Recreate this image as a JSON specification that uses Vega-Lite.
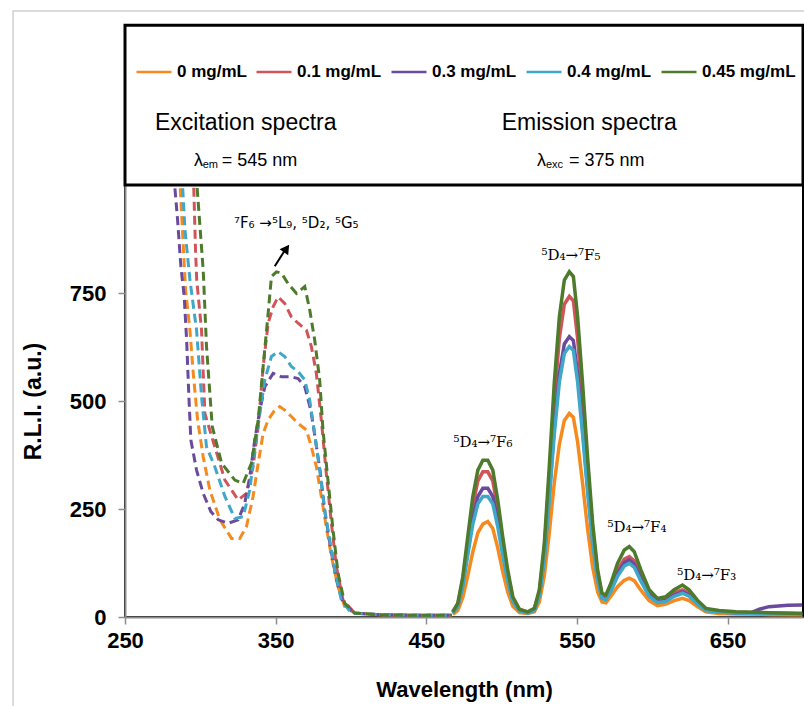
{
 "$schema": "https://vega.github.io/schema/vega-lite/v6.json",
 "width": 678,
 "height": 432,
 "autosize": {"type": "none"},
 "padding": {"left": 125, "top": 185, "right": 1, "bottom": 89},
 "background": "white",
 "config": {
  "font": "Liberation Sans",
  "view": {"stroke": "black", "strokeWidth": 2},
  "axis": {"grid": false, "labelColor": "black", "titleColor": "black", "labelFont": "Liberation Sans", "titleFont": "Liberation Sans", "labelFontWeight": "bold", "titleFontWeight": "bold", "labelFontSize": 22, "titleFontSize": 22, "domainColor": "#8c8c8c", "domainWidth": 2, "tickColor": "#8c8c8c", "tickSize": 7, "tickWidth": 1.5, "labelFlush": false},
  "legend": {"orient": "none", "legendX": 10, "legendY": -132, "direction": "horizontal", "symbolType": "stroke", "symbolSize": 1225, "symbolStrokeWidth": 2.5, "symbolDash": [1, 0], "labelFont": "Liberation Sans", "labelFontWeight": "bold", "labelFontSize": 17, "labelColor": "black", "labelOffset": 4, "columnPadding": 4, "padding": 0, "titleFontSize": 0}
 },
 "datasets": {
  "exc": [
   {"c":"0 mg/mL","wl":278,"rli":1250},{"c":"0 mg/mL","wl":286.4,"rli":1011},{"c":"0 mg/mL","wl":288.7,"rli":857},{"c":"0 mg/mL","wl":290.2,"rli":757},{"c":"0 mg/mL","wl":293.1,"rli":664},{"c":"0 mg/mL","wl":295.3,"rli":564},{"c":"0 mg/mL","wl":298.2,"rli":456},{"c":"0 mg/mL","wl":301.9,"rli":371},{"c":"0 mg/mL","wl":306.3,"rli":294},{"c":"0 mg/mL","wl":313,"rli":225},{"c":"0 mg/mL","wl":320.7,"rli":182},{"c":"0 mg/mL","wl":326.2,"rli":182},{"c":"0 mg/mL","wl":330.6,"rli":209},{"c":"0 mg/mL","wl":335,"rli":279},{"c":"0 mg/mL","wl":338.4,"rli":356},{"c":"0 mg/mL","wl":341.7,"rli":425},{"c":"0 mg/mL","wl":345,"rli":456},{"c":"0 mg/mL","wl":349.4,"rli":479},{"c":"0 mg/mL","wl":352.7,"rli":487},{"c":"0 mg/mL","wl":356,"rli":479},{"c":"0 mg/mL","wl":360.4,"rli":464},{"c":"0 mg/mL","wl":364.9,"rli":448},{"c":"0 mg/mL","wl":370.4,"rli":433},{"c":"0 mg/mL","wl":373.7,"rli":394},{"c":"0 mg/mL","wl":377,"rli":348},{"c":"0 mg/mL","wl":380.3,"rli":279},{"c":"0 mg/mL","wl":383.6,"rli":209},{"c":"0 mg/mL","wl":387,"rli":140},{"c":"0 mg/mL","wl":391.4,"rli":70},{"c":"0 mg/mL","wl":395.8,"rli":24},{"c":"0 mg/mL","wl":402.4,"rli":9},{"c":"0 mg/mL","wl":420,"rli":5},{"c":"0 mg/mL","wl":445,"rli":4},{"c":"0 mg/mL","wl":467,"rli":4},
   {"c":"0.1 mg/mL","wl":285,"rli":1250},{"c":"0.1 mg/mL","wl":295.5,"rli":1011},{"c":"0.1 mg/mL","wl":296.8,"rli":850},{"c":"0.1 mg/mL","wl":297.6,"rli":780},{"c":"0.1 mg/mL","wl":300.8,"rli":664},{"c":"0.1 mg/mL","wl":303,"rli":471},{"c":"0.1 mg/mL","wl":309.6,"rli":394},{"c":"0.1 mg/mL","wl":316.3,"rli":317},{"c":"0.1 mg/mL","wl":325.1,"rli":271},{"c":"0.1 mg/mL","wl":330.6,"rli":286},{"c":"0.1 mg/mL","wl":335,"rli":348},{"c":"0.1 mg/mL","wl":338.4,"rli":441},{"c":"0.1 mg/mL","wl":341.7,"rli":580},{"c":"0.1 mg/mL","wl":345,"rli":680},{"c":"0.1 mg/mL","wl":348.3,"rli":718},{"c":"0.1 mg/mL","wl":351.6,"rli":741},{"c":"0.1 mg/mL","wl":356,"rli":726},{"c":"0.1 mg/mL","wl":360.4,"rli":695},{"c":"0.1 mg/mL","wl":364.9,"rli":680},{"c":"0.1 mg/mL","wl":370.4,"rli":664},{"c":"0.1 mg/mL","wl":373.7,"rli":626},{"c":"0.1 mg/mL","wl":377,"rli":564},{"c":"0.1 mg/mL","wl":380.3,"rli":456},{"c":"0.1 mg/mL","wl":383.6,"rli":333},{"c":"0.1 mg/mL","wl":387,"rli":217},{"c":"0.1 mg/mL","wl":390.3,"rli":117},{"c":"0.1 mg/mL","wl":394.7,"rli":39},{"c":"0.1 mg/mL","wl":402.4,"rli":9},{"c":"0.1 mg/mL","wl":420,"rli":5},{"c":"0.1 mg/mL","wl":445,"rli":4},{"c":"0.1 mg/mL","wl":467,"rli":4},
   {"c":"0.3 mg/mL","wl":275,"rli":1250},{"c":"0.3 mg/mL","wl":282.7,"rli":1011},{"c":"0.3 mg/mL","wl":284.9,"rli":919},{"c":"0.3 mg/mL","wl":287.1,"rli":811},{"c":"0.3 mg/mL","wl":289.3,"rli":742},{"c":"0.3 mg/mL","wl":290.9,"rli":641},{"c":"0.3 mg/mL","wl":292.4,"rli":510},{"c":"0.3 mg/mL","wl":293.7,"rli":410},{"c":"0.3 mg/mL","wl":297.5,"rli":340},{"c":"0.3 mg/mL","wl":301.9,"rli":286},{"c":"0.3 mg/mL","wl":307,"rli":244},{"c":"0.3 mg/mL","wl":311.9,"rli":225},{"c":"0.3 mg/mL","wl":318.5,"rli":217},{"c":"0.3 mg/mL","wl":325.1,"rli":225},{"c":"0.3 mg/mL","wl":329.5,"rli":263},{"c":"0.3 mg/mL","wl":332.8,"rli":325},{"c":"0.3 mg/mL","wl":336.1,"rli":410},{"c":"0.3 mg/mL","wl":339.5,"rli":479},{"c":"0.3 mg/mL","wl":342.8,"rli":533},{"c":"0.3 mg/mL","wl":348.3,"rli":564},{"c":"0.3 mg/mL","wl":353.8,"rli":556},{"c":"0.3 mg/mL","wl":360.4,"rli":556},{"c":"0.3 mg/mL","wl":364.9,"rli":552},{"c":"0.3 mg/mL","wl":369.3,"rli":533},{"c":"0.3 mg/mL","wl":373.3,"rli":479},{"c":"0.3 mg/mL","wl":376.4,"rli":410},{"c":"0.3 mg/mL","wl":379.7,"rli":333},{"c":"0.3 mg/mL","wl":382.5,"rli":248},{"c":"0.3 mg/mL","wl":386.3,"rli":163},{"c":"0.3 mg/mL","wl":390.3,"rli":86},{"c":"0.3 mg/mL","wl":394.7,"rli":32},{"c":"0.3 mg/mL","wl":402.4,"rli":9},{"c":"0.3 mg/mL","wl":420,"rli":5},{"c":"0.3 mg/mL","wl":445,"rli":4},{"c":"0.3 mg/mL","wl":467,"rli":4},
   {"c":"0.4 mg/mL","wl":280,"rli":1250},{"c":"0.4 mg/mL","wl":288,"rli":1011},{"c":"0.4 mg/mL","wl":289.8,"rli":896},{"c":"0.4 mg/mL","wl":293.1,"rli":780},{"c":"0.4 mg/mL","wl":297.5,"rli":664},{"c":"0.4 mg/mL","wl":300.8,"rli":510},{"c":"0.4 mg/mL","wl":304.1,"rli":394},{"c":"0.4 mg/mL","wl":309.6,"rli":348},{"c":"0.4 mg/mL","wl":316.3,"rli":279},{"c":"0.4 mg/mL","wl":322.9,"rli":228},{"c":"0.4 mg/mL","wl":328.4,"rli":232},{"c":"0.4 mg/mL","wl":332.8,"rli":294},{"c":"0.4 mg/mL","wl":336.1,"rli":387},{"c":"0.4 mg/mL","wl":339.5,"rli":471},{"c":"0.4 mg/mL","wl":342.8,"rli":549},{"c":"0.4 mg/mL","wl":347.2,"rli":603},{"c":"0.4 mg/mL","wl":351.6,"rli":614},{"c":"0.4 mg/mL","wl":356,"rli":603},{"c":"0.4 mg/mL","wl":360.4,"rli":580},{"c":"0.4 mg/mL","wl":364.9,"rli":568},{"c":"0.4 mg/mL","wl":369.3,"rli":549},{"c":"0.4 mg/mL","wl":372.6,"rli":502},{"c":"0.4 mg/mL","wl":375.9,"rli":425},{"c":"0.4 mg/mL","wl":379.2,"rli":340},{"c":"0.4 mg/mL","wl":382.5,"rli":248},{"c":"0.4 mg/mL","wl":385.9,"rli":178},{"c":"0.4 mg/mL","wl":389.2,"rli":109},{"c":"0.4 mg/mL","wl":393.6,"rli":39},{"c":"0.4 mg/mL","wl":400.2,"rli":9},{"c":"0.4 mg/mL","wl":420,"rli":5},{"c":"0.4 mg/mL","wl":445,"rli":4},{"c":"0.4 mg/mL","wl":467,"rli":4},
   {"c":"0.45 mg/mL","wl":288,"rli":1250},{"c":"0.45 mg/mL","wl":297.5,"rli":1011},{"c":"0.45 mg/mL","wl":301.9,"rli":803},{"c":"0.45 mg/mL","wl":304.1,"rli":626},{"c":"0.45 mg/mL","wl":307.9,"rli":441},{"c":"0.45 mg/mL","wl":314.1,"rli":356},{"c":"0.45 mg/mL","wl":322.9,"rli":317},{"c":"0.45 mg/mL","wl":328.4,"rli":309},{"c":"0.45 mg/mL","wl":333.9,"rli":356},{"c":"0.45 mg/mL","wl":338.4,"rli":456},{"c":"0.45 mg/mL","wl":341.7,"rli":580},{"c":"0.45 mg/mL","wl":345,"rli":703},{"c":"0.45 mg/mL","wl":347.2,"rli":788},{"c":"0.45 mg/mL","wl":350.5,"rli":799},{"c":"0.45 mg/mL","wl":353.8,"rli":796},{"c":"0.45 mg/mL","wl":358.2,"rli":772},{"c":"0.45 mg/mL","wl":363.8,"rli":749},{"c":"0.45 mg/mL","wl":369.3,"rli":765},{"c":"0.45 mg/mL","wl":372.6,"rli":711},{"c":"0.45 mg/mL","wl":375.9,"rli":641},{"c":"0.45 mg/mL","wl":379.2,"rli":549},{"c":"0.45 mg/mL","wl":381.4,"rli":433},{"c":"0.45 mg/mL","wl":384.7,"rli":317},{"c":"0.45 mg/mL","wl":388.1,"rli":201},{"c":"0.45 mg/mL","wl":391.4,"rli":101},{"c":"0.45 mg/mL","wl":395.8,"rli":32},{"c":"0.45 mg/mL","wl":402.4,"rli":9},{"c":"0.45 mg/mL","wl":420,"rli":5},{"c":"0.45 mg/mL","wl":445,"rli":4},{"c":"0.45 mg/mL","wl":467,"rli":4}
  ],
  "ems": [
   {"c":"0 mg/mL","wl":467.6,"rli":6},{"c":"0 mg/mL","wl":470.9,"rli":15},{"c":"0 mg/mL","wl":474.2,"rli":45},{"c":"0 mg/mL","wl":477.5,"rli":95},{"c":"0 mg/mL","wl":480.8,"rli":150},{"c":"0 mg/mL","wl":484.2,"rli":195},{"c":"0 mg/mL","wl":487.5,"rli":215},{"c":"0 mg/mL","wl":490.8,"rli":221},{"c":"0 mg/mL","wl":494.1,"rli":205},{"c":"0 mg/mL","wl":497.4,"rli":160},{"c":"0 mg/mL","wl":500.7,"rli":105},{"c":"0 mg/mL","wl":504,"rli":58},{"c":"0 mg/mL","wl":507.4,"rli":25},{"c":"0 mg/mL","wl":511.8,"rli":10},{"c":"0 mg/mL","wl":517.3,"rli":8},{"c":"0 mg/mL","wl":521.7,"rli":12},{"c":"0 mg/mL","wl":525,"rli":35},{"c":"0 mg/mL","wl":528.3,"rli":95},{"c":"0 mg/mL","wl":531.6,"rli":195},{"c":"0 mg/mL","wl":534.9,"rli":310},{"c":"0 mg/mL","wl":538.3,"rli":400},{"c":"0 mg/mL","wl":541.6,"rli":455},{"c":"0 mg/mL","wl":544.9,"rli":471},{"c":"0 mg/mL","wl":547.6,"rli":462},{"c":"0 mg/mL","wl":550.4,"rli":405},{"c":"0 mg/mL","wl":553.7,"rli":310},{"c":"0 mg/mL","wl":557,"rli":205},{"c":"0 mg/mL","wl":560.4,"rli":115},{"c":"0 mg/mL","wl":563.7,"rli":58},{"c":"0 mg/mL","wl":566.6,"rli":35},{"c":"0 mg/mL","wl":569.2,"rli":33},{"c":"0 mg/mL","wl":572.5,"rli":48},{"c":"0 mg/mL","wl":576.9,"rli":70},{"c":"0 mg/mL","wl":581.4,"rli":85},{"c":"0 mg/mL","wl":584.7,"rli":90},{"c":"0 mg/mL","wl":588,"rli":84},{"c":"0 mg/mL","wl":592.4,"rli":62},{"c":"0 mg/mL","wl":597.9,"rli":38},{"c":"0 mg/mL","wl":603.4,"rli":26},{"c":"0 mg/mL","wl":609,"rli":30},{"c":"0 mg/mL","wl":614.5,"rli":38},{"c":"0 mg/mL","wl":620,"rli":43},{"c":"0 mg/mL","wl":624.4,"rli":38},{"c":"0 mg/mL","wl":629.9,"rli":24},{"c":"0 mg/mL","wl":635.5,"rli":12},{"c":"0 mg/mL","wl":644.3,"rli":8},{"c":"0 mg/mL","wl":655.4,"rli":7},{"c":"0 mg/mL","wl":677.4,"rli":6},{"c":"0 mg/mL","wl":699.5,"rli":5},
   {"c":"0.1 mg/mL","wl":467.6,"rli":12},{"c":"0.1 mg/mL","wl":470.9,"rli":30},{"c":"0.1 mg/mL","wl":474.2,"rli":86},{"c":"0.1 mg/mL","wl":477.5,"rli":172},{"c":"0.1 mg/mL","wl":480.8,"rli":258},{"c":"0.1 mg/mL","wl":484.2,"rli":315},{"c":"0.1 mg/mL","wl":487.5,"rli":336},{"c":"0.1 mg/mL","wl":490.8,"rli":336},{"c":"0.1 mg/mL","wl":494.1,"rli":315},{"c":"0.1 mg/mL","wl":497.4,"rli":251},{"c":"0.1 mg/mL","wl":500.7,"rli":172},{"c":"0.1 mg/mL","wl":504,"rli":101},{"c":"0.1 mg/mL","wl":507.4,"rli":44},{"c":"0.1 mg/mL","wl":511.8,"rli":17},{"c":"0.1 mg/mL","wl":517.3,"rli":11},{"c":"0.1 mg/mL","wl":521.7,"rli":19},{"c":"0.1 mg/mL","wl":525,"rli":58},{"c":"0.1 mg/mL","wl":528.3,"rli":158},{"c":"0.1 mg/mL","wl":531.6,"rli":323},{"c":"0.1 mg/mL","wl":534.9,"rli":502},{"c":"0.1 mg/mL","wl":538.3,"rli":645},{"c":"0.1 mg/mL","wl":541.6,"rli":724},{"c":"0.1 mg/mL","wl":544.9,"rli":742},{"c":"0.1 mg/mL","wl":547.6,"rli":732},{"c":"0.1 mg/mL","wl":550.4,"rli":645},{"c":"0.1 mg/mL","wl":553.7,"rli":502},{"c":"0.1 mg/mL","wl":557,"rli":344},{"c":"0.1 mg/mL","wl":560.4,"rli":201},{"c":"0.1 mg/mL","wl":563.7,"rli":101},{"c":"0.1 mg/mL","wl":566.6,"rli":51},{"c":"0.1 mg/mL","wl":569.2,"rli":46},{"c":"0.1 mg/mL","wl":572.5,"rli":70},{"c":"0.1 mg/mL","wl":576.9,"rli":108},{"c":"0.1 mg/mL","wl":581.4,"rli":134},{"c":"0.1 mg/mL","wl":584.7,"rli":140},{"c":"0.1 mg/mL","wl":588,"rli":130},{"c":"0.1 mg/mL","wl":592.4,"rli":94},{"c":"0.1 mg/mL","wl":597.9,"rli":55},{"c":"0.1 mg/mL","wl":603.4,"rli":38},{"c":"0.1 mg/mL","wl":609,"rli":42},{"c":"0.1 mg/mL","wl":614.5,"rli":56},{"c":"0.1 mg/mL","wl":620,"rli":63},{"c":"0.1 mg/mL","wl":624.4,"rli":55},{"c":"0.1 mg/mL","wl":629.9,"rli":34},{"c":"0.1 mg/mL","wl":635.5,"rli":18},{"c":"0.1 mg/mL","wl":644.3,"rli":13},{"c":"0.1 mg/mL","wl":655.4,"rli":11},{"c":"0.1 mg/mL","wl":677.4,"rli":9},{"c":"0.1 mg/mL","wl":699.5,"rli":8},
   {"c":"0.3 mg/mL","wl":467.6,"rli":10},{"c":"0.3 mg/mL","wl":470.9,"rli":26},{"c":"0.3 mg/mL","wl":474.2,"rli":76},{"c":"0.3 mg/mL","wl":477.5,"rli":153},{"c":"0.3 mg/mL","wl":480.8,"rli":228},{"c":"0.3 mg/mL","wl":484.2,"rli":279},{"c":"0.3 mg/mL","wl":487.5,"rli":298},{"c":"0.3 mg/mL","wl":490.8,"rli":298},{"c":"0.3 mg/mL","wl":494.1,"rli":279},{"c":"0.3 mg/mL","wl":497.4,"rli":222},{"c":"0.3 mg/mL","wl":500.7,"rli":153},{"c":"0.3 mg/mL","wl":504,"rli":89},{"c":"0.3 mg/mL","wl":507.4,"rli":39},{"c":"0.3 mg/mL","wl":511.8,"rli":15},{"c":"0.3 mg/mL","wl":517.3,"rli":10},{"c":"0.3 mg/mL","wl":521.7,"rli":16},{"c":"0.3 mg/mL","wl":525,"rli":51},{"c":"0.3 mg/mL","wl":528.3,"rli":138},{"c":"0.3 mg/mL","wl":531.6,"rli":282},{"c":"0.3 mg/mL","wl":534.9,"rli":438},{"c":"0.3 mg/mL","wl":538.3,"rli":563},{"c":"0.3 mg/mL","wl":541.6,"rli":632},{"c":"0.3 mg/mL","wl":544.9,"rli":649},{"c":"0.3 mg/mL","wl":547.6,"rli":640},{"c":"0.3 mg/mL","wl":550.4,"rli":563},{"c":"0.3 mg/mL","wl":553.7,"rli":438},{"c":"0.3 mg/mL","wl":557,"rli":301},{"c":"0.3 mg/mL","wl":560.4,"rli":176},{"c":"0.3 mg/mL","wl":563.7,"rli":89},{"c":"0.3 mg/mL","wl":566.6,"rli":45},{"c":"0.3 mg/mL","wl":569.2,"rli":42},{"c":"0.3 mg/mL","wl":572.5,"rli":63},{"c":"0.3 mg/mL","wl":576.9,"rli":100},{"c":"0.3 mg/mL","wl":581.4,"rli":126},{"c":"0.3 mg/mL","wl":584.7,"rli":132},{"c":"0.3 mg/mL","wl":588,"rli":122},{"c":"0.3 mg/mL","wl":592.4,"rli":88},{"c":"0.3 mg/mL","wl":597.9,"rli":51},{"c":"0.3 mg/mL","wl":603.4,"rli":35},{"c":"0.3 mg/mL","wl":609,"rli":38},{"c":"0.3 mg/mL","wl":614.5,"rli":51},{"c":"0.3 mg/mL","wl":620,"rli":58},{"c":"0.3 mg/mL","wl":624.4,"rli":51},{"c":"0.3 mg/mL","wl":629.9,"rli":32},{"c":"0.3 mg/mL","wl":635.5,"rli":16},{"c":"0.3 mg/mL","wl":644.3,"rli":12},{"c":"0.3 mg/mL","wl":655.4,"rli":9},{"c":"0.3 mg/mL","wl":665,"rli":9},{"c":"0.3 mg/mL","wl":671,"rli":18},{"c":"0.3 mg/mL","wl":677.4,"rli":24},{"c":"0.3 mg/mL","wl":690,"rli":27},{"c":"0.3 mg/mL","wl":699.5,"rli":28},
   {"c":"0.4 mg/mL","wl":467.6,"rli":9},{"c":"0.4 mg/mL","wl":470.9,"rli":25},{"c":"0.4 mg/mL","wl":474.2,"rli":72},{"c":"0.4 mg/mL","wl":477.5,"rli":143},{"c":"0.4 mg/mL","wl":480.8,"rli":214},{"c":"0.4 mg/mL","wl":484.2,"rli":262},{"c":"0.4 mg/mL","wl":487.5,"rli":279},{"c":"0.4 mg/mL","wl":490.8,"rli":279},{"c":"0.4 mg/mL","wl":494.1,"rli":262},{"c":"0.4 mg/mL","wl":497.4,"rli":209},{"c":"0.4 mg/mL","wl":500.7,"rli":143},{"c":"0.4 mg/mL","wl":504,"rli":84},{"c":"0.4 mg/mL","wl":507.4,"rli":36},{"c":"0.4 mg/mL","wl":511.8,"rli":14},{"c":"0.4 mg/mL","wl":517.3,"rli":9},{"c":"0.4 mg/mL","wl":521.7,"rli":15},{"c":"0.4 mg/mL","wl":525,"rli":49},{"c":"0.4 mg/mL","wl":528.3,"rli":133},{"c":"0.4 mg/mL","wl":531.6,"rli":272},{"c":"0.4 mg/mL","wl":534.9,"rli":423},{"c":"0.4 mg/mL","wl":538.3,"rli":544},{"c":"0.4 mg/mL","wl":541.6,"rli":610},{"c":"0.4 mg/mL","wl":544.9,"rli":626},{"c":"0.4 mg/mL","wl":547.6,"rli":617},{"c":"0.4 mg/mL","wl":550.4,"rli":544},{"c":"0.4 mg/mL","wl":553.7,"rli":423},{"c":"0.4 mg/mL","wl":557,"rli":290},{"c":"0.4 mg/mL","wl":560.4,"rli":170},{"c":"0.4 mg/mL","wl":563.7,"rli":85},{"c":"0.4 mg/mL","wl":566.6,"rli":43},{"c":"0.4 mg/mL","wl":569.2,"rli":40},{"c":"0.4 mg/mL","wl":572.5,"rli":60},{"c":"0.4 mg/mL","wl":576.9,"rli":94},{"c":"0.4 mg/mL","wl":581.4,"rli":118},{"c":"0.4 mg/mL","wl":584.7,"rli":124},{"c":"0.4 mg/mL","wl":588,"rli":115},{"c":"0.4 mg/mL","wl":592.4,"rli":83},{"c":"0.4 mg/mL","wl":597.9,"rli":48},{"c":"0.4 mg/mL","wl":603.4,"rli":33},{"c":"0.4 mg/mL","wl":609,"rli":36},{"c":"0.4 mg/mL","wl":614.5,"rli":48},{"c":"0.4 mg/mL","wl":620,"rli":55},{"c":"0.4 mg/mL","wl":624.4,"rli":48},{"c":"0.4 mg/mL","wl":629.9,"rli":30},{"c":"0.4 mg/mL","wl":635.5,"rli":15},{"c":"0.4 mg/mL","wl":644.3,"rli":11},{"c":"0.4 mg/mL","wl":655.4,"rli":9},{"c":"0.4 mg/mL","wl":677.4,"rli":8},{"c":"0.4 mg/mL","wl":699.5,"rli":7},
   {"c":"0.45 mg/mL","wl":467.6,"rli":12},{"c":"0.45 mg/mL","wl":470.9,"rli":32},{"c":"0.45 mg/mL","wl":474.2,"rli":93},{"c":"0.45 mg/mL","wl":477.5,"rli":186},{"c":"0.45 mg/mL","wl":480.8,"rli":278},{"c":"0.45 mg/mL","wl":484.2,"rli":340},{"c":"0.45 mg/mL","wl":487.5,"rli":363},{"c":"0.45 mg/mL","wl":490.8,"rli":363},{"c":"0.45 mg/mL","wl":494.1,"rli":340},{"c":"0.45 mg/mL","wl":497.4,"rli":271},{"c":"0.45 mg/mL","wl":500.7,"rli":186},{"c":"0.45 mg/mL","wl":504,"rli":109},{"c":"0.45 mg/mL","wl":507.4,"rli":47},{"c":"0.45 mg/mL","wl":511.8,"rli":18},{"c":"0.45 mg/mL","wl":517.3,"rli":12},{"c":"0.45 mg/mL","wl":521.7,"rli":20},{"c":"0.45 mg/mL","wl":525,"rli":63},{"c":"0.45 mg/mL","wl":528.3,"rli":170},{"c":"0.45 mg/mL","wl":531.6,"rli":348},{"c":"0.45 mg/mL","wl":534.9,"rli":541},{"c":"0.45 mg/mL","wl":538.3,"rli":695},{"c":"0.45 mg/mL","wl":541.6,"rli":780},{"c":"0.45 mg/mL","wl":544.9,"rli":799},{"c":"0.45 mg/mL","wl":547.6,"rli":788},{"c":"0.45 mg/mL","wl":550.4,"rli":695},{"c":"0.45 mg/mL","wl":553.7,"rli":541},{"c":"0.45 mg/mL","wl":557,"rli":371},{"c":"0.45 mg/mL","wl":560.4,"rli":217},{"c":"0.45 mg/mL","wl":563.7,"rli":109},{"c":"0.45 mg/mL","wl":566.6,"rli":55},{"c":"0.45 mg/mL","wl":569.2,"rli":51},{"c":"0.45 mg/mL","wl":572.5,"rli":78},{"c":"0.45 mg/mL","wl":576.9,"rli":124},{"c":"0.45 mg/mL","wl":581.4,"rli":155},{"c":"0.45 mg/mL","wl":584.7,"rli":163},{"c":"0.45 mg/mL","wl":588,"rli":151},{"c":"0.45 mg/mL","wl":592.4,"rli":109},{"c":"0.45 mg/mL","wl":597.9,"rli":63},{"c":"0.45 mg/mL","wl":603.4,"rli":43},{"c":"0.45 mg/mL","wl":609,"rli":47},{"c":"0.45 mg/mL","wl":614.5,"rli":63},{"c":"0.45 mg/mL","wl":620,"rli":74},{"c":"0.45 mg/mL","wl":624.4,"rli":63},{"c":"0.45 mg/mL","wl":629.9,"rli":39},{"c":"0.45 mg/mL","wl":635.5,"rli":20},{"c":"0.45 mg/mL","wl":644.3,"rli":15},{"c":"0.45 mg/mL","wl":655.4,"rli":12},{"c":"0.45 mg/mL","wl":677.4,"rli":10},{"c":"0.45 mg/mL","wl":699.5,"rli":8}
  ],
  "notes": [
   {"g":"big","txt":"Excitation spectra","wl":269.9,"rli":1143},
   {"g":"big","txt":"Emission spectra","wl":500,"rli":1143},
   {"g":"mid","txt":"λ","wl":295.8,"rli":1056},
   {"g":"sub","txt":"em","wl":301.6,"rli":1046},
   {"g":"mid","txt":"= 545 nm","wl":314.2,"rli":1056},
   {"g":"mid","txt":"λ","wl":523.4,"rli":1056},
   {"g":"sub","txt":"exc","wl":529.4,"rli":1046},
   {"g":"mid","txt":"= 375 nm","wl":544.7,"rli":1056},
   {"g":"ann","txt":"⁷F₆ →⁵L₉, ⁵D₂, ⁵G₅","wl":322.3,"rli":912},
   {"g":"peak","txt":"⁵D₄→⁷F₆","wl":487.6,"rli":406},
   {"g":"peak","txt":"⁵D₄→⁷F₅","wl":546,"rli":838},
   {"g":"peak","txt":"⁵D₄→⁷F₄","wl":589.8,"rli":209},
   {"g":"peak","txt":"⁵D₄→⁷F₃","wl":636.1,"rli":97}
  ]
 },
 "layer": [
  {
   "data": {"values": [{"wl":175.7,"wl2":760,"rli":-300,"rli2":1403}]},
   "mark": {"type": "rect", "filled": false, "stroke": "#cfcfcf", "strokeWidth": 1.5, "clip": false},
   "encoding": {
    "x": {"field": "wl", "type": "quantitative", "scale": {"domain": [250, 700]}, "axis": {"values": [250, 350, 450, 550, 650], "title": "Wavelength (nm)", "labelPadding": 6, "titlePadding": 28}},
    "x2": {"field": "wl2"},
    "y": {"field": "rli", "type": "quantitative", "scale": {"domain": [0, 1000]}, "axis": {"values": [0, 250, 500, 750], "title": "R.L.I. (a.u.)", "labelPadding": 12, "titlePadding": 24, "titleFontSize": 23}},
    "y2": {"field": "rli2"}
   }
  },
  {
   "data": {"values": [{"wl":250,"wl2":700,"rli":1000,"rli2":1370}]},
   "mark": {"type": "rect", "filled": false, "stroke": "black", "strokeWidth": 3, "clip": false},
   "encoding": {
    "x": {"field": "wl", "type": "quantitative"},
    "x2": {"field": "wl2"},
    "y": {"field": "rli", "type": "quantitative"},
    "y2": {"field": "rli2"}
   }
  },
  {
   "data": {"name": "ems"},
   "mark": {"type": "line", "strokeWidth": 3.5, "clip": true},
   "encoding": {
    "x": {"field": "wl", "type": "quantitative"},
    "y": {"field": "rli", "type": "quantitative"},
    "color": {"field": "c", "type": "nominal", "title": null, "scale": {"domain": ["0 mg/mL", "0.1 mg/mL", "0.3 mg/mL", "0.4 mg/mL", "0.45 mg/mL"], "range": ["#F58A1E", "#D1545A", "#6A4A9C", "#3FA7C8", "#4E7A2C"]}}
   }
  },
  {
   "data": {"name": "exc"},
   "mark": {"type": "line", "strokeWidth": 3, "strokeDash": [9, 5], "clip": true},
   "encoding": {
    "x": {"field": "wl", "type": "quantitative"},
    "y": {"field": "rli", "type": "quantitative"},
    "color": {"field": "c", "type": "nominal"}
   }
  },
  {
   "data": {"name": "notes"},
   "transform": [{"filter": "datum.g == 'big'"}],
   "mark": {"type": "text", "align": "left", "baseline": "middle", "font": "Liberation Sans", "fontSize": 23, "color": "black"},
   "encoding": {"x": {"field": "wl", "type": "quantitative"}, "y": {"field": "rli", "type": "quantitative"}, "text": {"field": "txt"}}
  },
  {
   "data": {"name": "notes"},
   "transform": [{"filter": "datum.g == 'mid'"}],
   "mark": {"type": "text", "align": "left", "baseline": "middle", "font": "Liberation Sans", "fontSize": 18, "color": "black"},
   "encoding": {"x": {"field": "wl", "type": "quantitative"}, "y": {"field": "rli", "type": "quantitative"}, "text": {"field": "txt"}}
  },
  {
   "data": {"name": "notes"},
   "transform": [{"filter": "datum.g == 'sub'"}],
   "mark": {"type": "text", "align": "left", "baseline": "middle", "font": "Liberation Sans", "fontSize": 11, "color": "black"},
   "encoding": {"x": {"field": "wl", "type": "quantitative"}, "y": {"field": "rli", "type": "quantitative"}, "text": {"field": "txt"}}
  },
  {
   "data": {"name": "notes"},
   "transform": [{"filter": "datum.g == 'ann'"}],
   "mark": {"type": "text", "align": "left", "baseline": "middle", "font": "DejaVu Sans", "fontSize": 15, "color": "black"},
   "encoding": {"x": {"field": "wl", "type": "quantitative"}, "y": {"field": "rli", "type": "quantitative"}, "text": {"field": "txt"}}
  },
  {
   "data": {"name": "notes"},
   "transform": [{"filter": "datum.g == 'peak'"}],
   "mark": {"type": "text", "align": "center", "baseline": "middle", "font": "DejaVu Serif", "fontSize": 15, "color": "black"},
   "encoding": {"x": {"field": "wl", "type": "quantitative"}, "y": {"field": "rli", "type": "quantitative"}, "text": {"field": "txt"}}
  },
  {
   "data": {"values": [{"wl":349.4,"rli":812,"wl2":355.6,"rli2":846}]},
   "mark": {"type": "rule", "color": "black", "strokeWidth": 2},
   "encoding": {"x": {"field": "wl", "type": "quantitative"}, "y": {"field": "rli", "type": "quantitative"}, "x2": {"field": "wl2"}, "y2": {"field": "rli2"}}
  },
  {
   "data": {"values": [{"wl":357.2,"rli":853}]},
   "mark": {"type": "point", "shape": "triangle-up", "filled": true, "color": "black", "size": 110, "angle": 35, "opacity": 1},
   "encoding": {"x": {"field": "wl", "type": "quantitative"}, "y": {"field": "rli", "type": "quantitative"}}
  }
 ]
}
